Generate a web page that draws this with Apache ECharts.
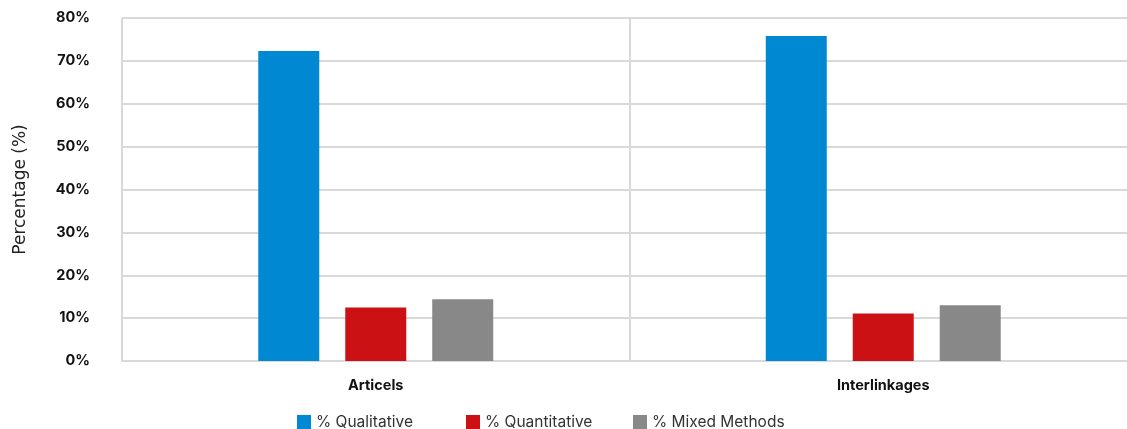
<!DOCTYPE html>
<html>
<head>
<meta charset="utf-8">
<script src="https://cdn.jsdelivr.net/npm/echarts@6/dist/echarts.min.js"></script>
<style>html,body{margin:0;padding:0;background:#fff;overflow:hidden;width:1127px;height:429px}#c{width:1137px;height:429px}</style>
</head>
<body>
<div id="c"></div>
<script>
var categories = ['Articels', 'Interlinkages'];
var seriesNames = ['% Qualitative', '% Quantitative', '% Mixed Methods'];
var qualitative = [72.3, 75.8];
var quantitative = [12.5, 11.1];
var mixed = [14.4, 13.0];
var yTicks = [0, 10, 20, 30, 40, 50, 60, 70, 80];
var colors = ['#0089d2', '#cc1114', '#888888'];
var legendLeft = [292, 461, 628];

var FONT = 'Inter';
var chart = echarts.init(document.getElementById('c'), null, {renderer: 'canvas'});
var values = [qualitative, quantitative, mixed];
chart.setOption({
  animation: false,
  color: colors,
  textStyle: {fontFamily: FONT},
  grid: {left: 122, right: 0, top: 18, bottom: 68, containLabel: false},
  legend: seriesNames.map(function (n, i) {
    return {
      top: 409, left: legendLeft[i],
      itemWidth: 14, itemHeight: 14,
      icon: 'rect',
      textStyle: {fontSize: 15.5, color: '#333', fontFamily: FONT},
      data: [n]
    };
  }),
  xAxis: {
    type: 'category',
    data: categories,
    axisLine: {show: true, lineStyle: {color: '#d9d9d9', width: 2}},
    axisTick: {show: false},
    splitLine: {show: true, lineStyle: {color: '#d9d9d9', width: 2}},
    axisLabel: {fontSize: 14.5, fontWeight: 'bold', color: '#111', margin: 17, fontFamily: FONT}
  },
  yAxis: {
    type: 'value',
    min: yTicks[0], max: yTicks[yTicks.length - 1], interval: 10,
    name: 'Percentage (%)',
    nameLocation: 'middle',
    nameGap: 93,
    nameTextStyle: {fontSize: 17, color: '#222', fontFamily: 'DejaVu Sans'},
    axisLine: {show: false},
    axisTick: {show: false},
    splitLine: {lineStyle: {color: '#d9d9d9', width: 2}},
    axisLabel: {fontSize: 14.5, fontWeight: 'bold', color: '#111', margin: 32, fontFamily: FONT,
      formatter: function (v) { return v + '%'; }}
  },
  series: seriesNames.map(function (n, i) {
    return {name: n, type: 'bar', data: values[i], barWidth: 61, barGap: '42.6%'};
  })
});
</script>
</body>
</html>
